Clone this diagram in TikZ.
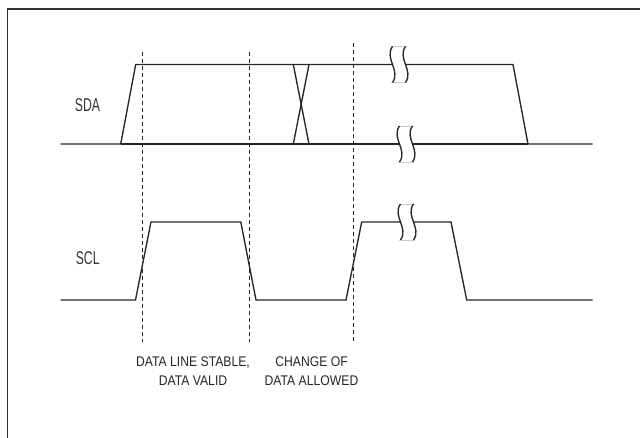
\documentclass[tikz,border=0pt]{standalone}
\usepackage{fontspec}
\setmainfont{Liberation Sans}
\newfontfamily\labelfont{Liberation Sans}[FakeStretch=0.66]
\newfontfamily\notefont{Liberation Sans}[FakeStretch=0.87]
\begin{document}
\begin{tikzpicture}[x=1pt,y=-1pt,
    sig/.style={line width=1.35pt, black!85},
    guide/.style={line width=0.9pt, black!85, dash pattern=on 4pt off 3pt},
    signame/.style={inner sep=0pt, text=black!80, font=\labelfont\fontsize{18.5}{20}\selectfont},
    note/.style={inner sep=0pt, anchor=north, align=center, text=black!85, font=\notefont\fontsize{14}{19}\selectfont}]
        \useasboundingbox (0,0) rectangle (640,438);
        \clip (0,0) rectangle (640,438);
        \draw[line width=1.6pt, black!80] (7.5,9) rectangle (660,460);
        % SDA
        \draw[sig] (60.7,144) -- (120.7,144) -- (135.7,64.5) -- (513,64.5) -- (528,144) -- (592.6,144);
        \draw[sig] (120.7,144) -- (528,144);
        \draw[sig] (293.3,64.5) -- (309,144);
        \draw[sig] (309,64.5) -- (293.3,144);
        % SCL
        \draw[sig] (60.7,300) -- (135.5,300) -- (151,222) -- (240.8,222) -- (256,300) -- (346,300)
            -- (361.7,222) -- (451,222) -- (466.7,300) -- (592.6,300);
        % breaks
        \foreach \bx/\by in {399/64.5, 406/144, 407/222} {
            \fill[white] (\bx-6.5,\by-18) .. controls (\bx-15,\by-6) and (\bx+2,\by+6) .. (\bx-6.5,\by+18)
                -- (\bx+6.5,\by+18) .. controls (\bx+15,\by+6) and (\bx-2,\by-6) .. (\bx+6.5,\by-18) -- cycle;
            \draw[black!20, line width=0.6pt] (\bx-8,\by-18) -- (\bx+8,\by-18);
            \draw[black!20, line width=0.6pt] (\bx-8,\by+18) -- (\bx+8,\by+18);
            \draw[sig] (\bx-6.5,\by-18) .. controls (\bx-15,\by-6) and (\bx+2,\by+6) .. (\bx-6.5,\by+18);
            \draw[sig] (\bx+6.5,\by-18) .. controls (\bx-2,\by-6) and (\bx+15,\by+6) .. (\bx+6.5,\by+18);
        }
        % dashed guides
        \draw[guide] (142,51.7) -- (142,341.7);
        \draw[guide] (249,51.7) -- (249,341.7);
        \draw[guide] (353.7,43) -- (353.7,341.7);
        % labels
        \node[signame] (sda) at (87.5,105.5) {SDA};
        \node[signame] (scl) at (87.7,258) {SCL};
        \node[note] (stable) at (193,356.7) {DATA LINE STABLE,\\DATA VALID};
        \node[note] (change) at (311.5,356.7) {CHANGE OF\\DATA ALLOWED};
\end{tikzpicture}
\end{document}
